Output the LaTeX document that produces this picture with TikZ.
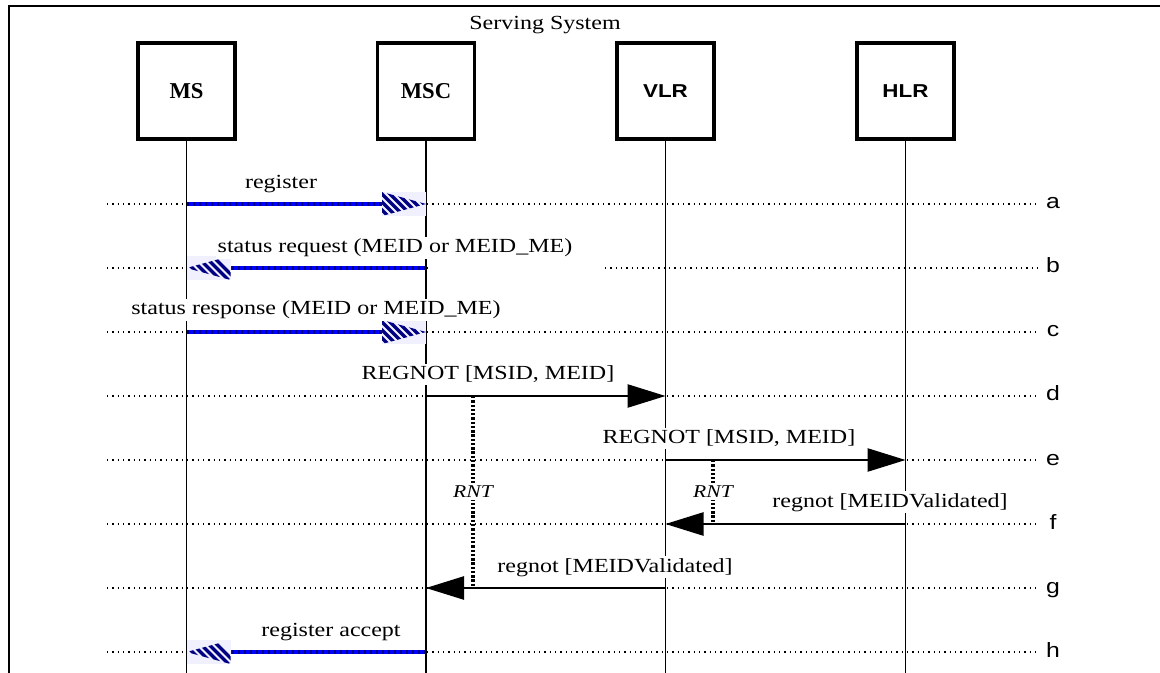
\documentclass[tikz,border=0pt]{standalone}
\usepackage{fontspec}
\usepackage{graphicx}
\setmainfont{Liberation Serif}
\newfontfamily\sansfam{Liberation Sans}
\newcommand{\widetxt}[1]{\scalebox{1.2}[1]{#1}}
\usetikzlibrary{arrows.meta}
\definecolor{navy}{RGB}{0,0,130}
\begin{document}
\begin{tikzpicture}[x=0.75pt,y=-0.75pt,
 entity/.style={draw, line width=2.4pt, minimum width=72.75pt, minimum height=72pt, inner sep=0pt},
 serifname/.style={font=\bfseries\fontsize{17}{20}\selectfont},
 sansname/.style={font=\sansfam\bfseries\fontsize{14}{17}\selectfont},
 lifeline/.style={line width=1.4pt},
 guide/.style={line width=0.9pt, dash pattern=on 0.9pt off 3.1pt},
 callarrow/.style={line width=1pt, -{Triangle[length=28.5pt, width=17.5pt]}},
 lbl/.style={font=\fontsize{15}{18}\selectfont, fill=white, inner xsep=1pt, inner ysep=1.5pt, anchor=base},
 rowlbl/.style={font=\sansfam\fontsize{15.5}{18}\selectfont, inner sep=0pt, anchor=base},
 timer/.style={line width=2.6pt, dash pattern=on 1.8pt off 1.4pt},
 rnt/.style={font=\itshape\fontsize{13.5}{15}\selectfont, fill=white, inner sep=2pt, anchor=base},
 bluebase/.style={line width=3pt, blue},
 bluedash/.style={line width=3pt, navy, dash pattern=on 1.8pt off 2.7pt},
 pics/hhead/.style={code={
   \fill[blue!6] (-44*#1,-12) rectangle (0,12);
   \begin{scope}
   \clip (-44*#1,-12) -- (0,0) -- (-44*#1,12) -- cycle;
   \foreach \s in {-70,-62,...,30} \draw[navy, line width=2.6pt] (\s,-12) -- (\s+24,12);
   \end{scope}}}
]
\useasboundingbox (0,0) rectangle (1160,673);
\fill[white] (0,0) rectangle (1160,673);

% frame
\coordinate (fbl) at (9,673);
\coordinate (ftl) at (9,6);
\coordinate (ftr) at (1160,6);
\draw[line width=2pt] (fbl) -- (ftl) -- (ftr);
\node[lbl] (ss) at (545,30) {\widetxt{Serving System}};

% entities
\node[entity, serifname] (MS) at (186.5,91) {MS};
\node[entity, serifname] (MSC) at (426,91) {MSC};
\node[entity, sansname] (VLR) at (665.5,91) {\widetxt{VLR}};
\node[entity, sansname] (HLR) at (905.5,91) {\widetxt{HLR}};

\coordinate (bot) at (0,673);
\foreach \e in {MS,MSC,VLR,HLR}
  \draw[lifeline] (\e.south) -- (\e.south |- bot);

% rows
\foreach \r/\y in {a/204,b/268,c/332,d/396,e/460,f/524,g/588,h/652}{
  \coordinate (s\r) at (107,\y);
  \coordinate (t\r) at (1040,\y);
  \node[rowlbl] (l\r) at (1053,\y+5) {\widetxt{\r}};
}
\foreach \r in {a,c,d,e,f,g,h}
  \draw[guide] (s\r) -- (t\r);
\coordinate (bgap1) at (430,268);
\coordinate (bgap2) at (605,268);
\draw[guide] (sb) -- (bgap1);
\draw[guide] (bgap2) -- (tb);

% a: register
\draw[bluebase] (MS |- sa) -- (MSC |- sa);
\draw[bluedash] (MS |- sa) -- (MSC |- sa);
\pic at (MSC |- sa) {hhead=1};
\node[lbl] (la1) at (281,189) {\widetxt{register}};

% b: status request
\draw[bluebase] (MSC |- sb) -- (MS |- sb);
\draw[bluedash] (MSC |- sb) -- (MS |- sb);
\pic at (MS |- sb) {hhead=-1};
\node[lbl] (lb1) at (395,253) {\widetxt{status request (MEID or MEID\_ME)}};

% c: status response
\draw[bluebase] (MS |- sc) -- (MSC |- sc);
\draw[bluedash] (MS |- sc) -- (MSC |- sc);
\pic at (MSC |- sc) {hhead=1};
\node[lbl] (lc1) at (316,315) {\widetxt{status response (MEID or MEID\_ME)}};

% d: REGNOT MSC -> VLR
\draw[callarrow] (MSC |- sd) -- (VLR |- sd);
\node[lbl] (ld1) at (488,380) {\widetxt{REGNOT [MSID, MEID]}};

% e: REGNOT VLR -> HLR
\draw[callarrow] (VLR |- se) -- (HLR |- se);
\node[lbl] (le1) at (729,444) {\widetxt{REGNOT [MSID, MEID]}};

% f: regnot HLR -> VLR
\draw[callarrow] (HLR |- sf) -- (VLR |- sf);
\node[lbl] (lf1) at (890,507) {\widetxt{regnot [MEIDValidated]}};

% g: regnot VLR -> MSC
\draw[callarrow] (VLR |- sg) -- (MSC |- sg);
\node[lbl] (lg1) at (615,572) {\widetxt{regnot [MEIDValidated]}};

% h: register accept
\draw[bluebase] (MSC |- sh) -- (MS |- sh);
\draw[bluedash] (MSC |- sh) -- (MS |- sh);
\pic at (MS |- sh) {hhead=-1};
\node[lbl] (lh1) at (331,636) {\widetxt{register accept}};

% timers
\coordinate (t1s) at (473,396);
\coordinate (t1e) at (473,588);
\draw[timer] (t1s) -- (t1e);
\node[rnt] (rnt1) at (473,497) {\widetxt{RNT}};
\coordinate (t2s) at (713,460);
\coordinate (t2e) at (713,524);
\draw[timer] (t2s) -- (t2e);
\node[rnt] (rnt2) at (713,497) {\widetxt{RNT}};
\end{tikzpicture}
\end{document}
